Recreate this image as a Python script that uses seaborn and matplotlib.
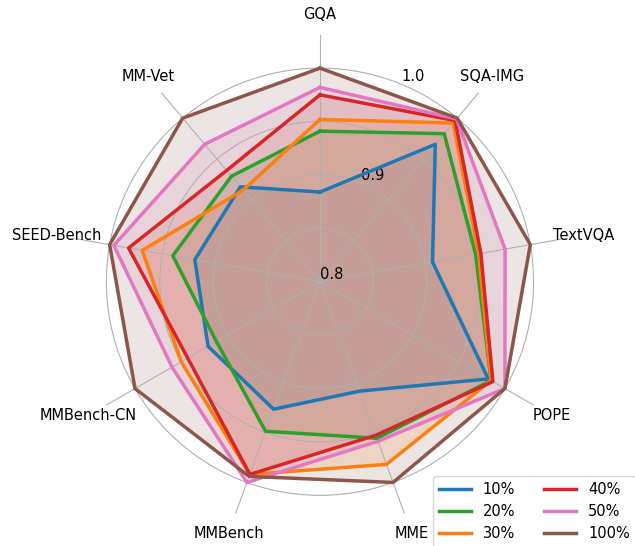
import numpy as np
import pandas as pd
import matplotlib
matplotlib.use("Agg")
import matplotlib.pyplot as plt
import seaborn as sns

# Benchmarks, clockwise from the top
benchmarks = ["GQA", "SQA-IMG", "TextVQA", "POPE", "MME",
              "MMBench", "MMBench-CN", "SEED-Bench", "MM-Vet"]

# Relative scores for each data fraction
series_names = ["10%", "20%", "30%", "40%", "50%", "100%"]
scores_10 = [0.884, 0.968, 0.907, 0.982, 0.909, 0.927, 0.921, 0.919, 0.916]
scores_20 = [0.941, 0.981, 0.948, 0.985, 0.956, 0.949, 0.912, 0.940, 0.929]
scores_30 = [0.952, 0.994, 0.951, 0.985, 0.982, 0.992, 0.950, 0.969, 0.912]
scores_40 = [0.975, 0.997, 0.953, 0.987, 0.953, 0.992, 0.943, 0.982, 0.936]
scores_50 = [0.982, 0.999, 0.976, 1.000, 0.959, 1.000, 0.960, 0.996, 0.968]
scores_100 = [1.000, 1.000, 1.000, 1.000, 1.000, 0.994, 1.000, 1.000, 1.000]
all_scores = [scores_10, scores_20, scores_30, scores_40, scores_50, scores_100]

palette = sns.color_palette("tab10")
colors = [palette[0], palette[2], palette[1], palette[3], palette[6], palette[5]]

r_ticks = [0.8, 0.85, 0.9, 0.95, 1.0]
r_tick_labels = ["0.8", "", "0.9", "", "1.0"]

plt.rcParams["font.family"] = ["DejaVu Sans"]

fig = plt.figure(figsize=(6.35, 5.46), dpi=100)
ax = fig.add_axes([0.1154, 0.0322, 0.777, 0.9036], polar=True)
ax.set_theta_zero_location("N")
ax.set_theta_direction(-1)

n = len(benchmarks)
angles = np.linspace(0, 2 * np.pi, n, endpoint=False)
# close each polygon at 2*pi so the last edge runs the short way round
closed_angles = np.append(angles, 2 * np.pi)

for name, vals, col in zip(series_names, all_scores, colors):
    df = pd.DataFrame({"theta": closed_angles, "score": vals + vals[:1]})
    sns.lineplot(data=df, x="theta", y="score", ax=ax, sort=False,
                 color=col, linewidth=2.5, label=name)
    ax.fill(df["theta"], df["score"], color=col, alpha=0.15)

ax.set_xlabel("")
ax.set_ylabel("")
ax.set_ylim(0.8, 1.031)
ax.set_xticks(angles)
ax.set_xticklabels(benchmarks, fontsize=10.5, color="black")
ax.tick_params(axis="x", pad=4.5)
ax.set_yticks(r_ticks)
ax.set_yticklabels(r_tick_labels, fontsize=10.5, color="black")
ax.set_rlabel_position(22.5)
ax.grid(True, color="#b0b0b0", linewidth=0.8)
ax.spines["polar"].set_visible(False)

ax.legend(ncol=2, loc="upper left", bbox_to_anchor=(433 / 635, 1 - 476 / 546),
          bbox_transform=fig.transFigure, borderaxespad=0, fontsize=10.5,
          frameon=True, handlelength=2.2, columnspacing=2.0)

fig.savefig("out.png", dpi=100)
